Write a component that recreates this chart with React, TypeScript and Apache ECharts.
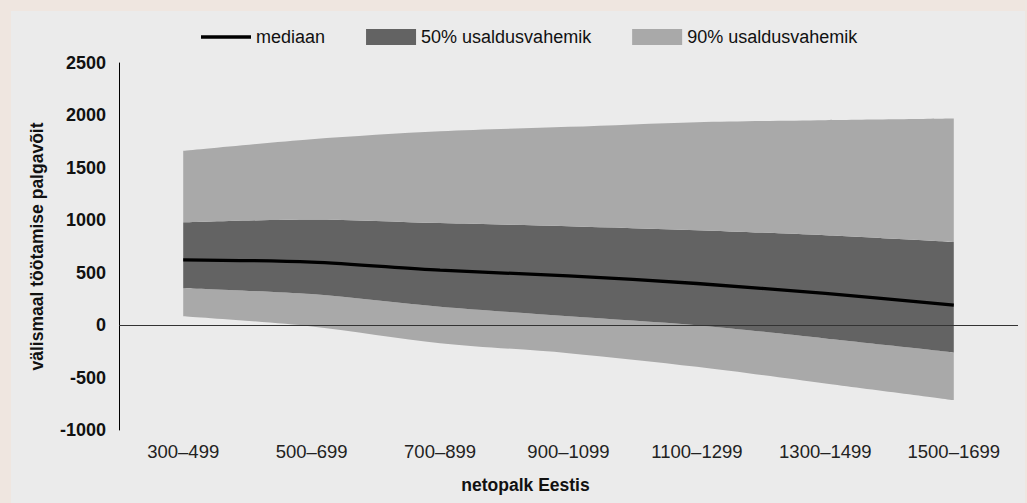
import React, { useEffect, useRef } from "react";
import * as echarts from "echarts";

const categories = ["300–499", "500–699", "700–899", "900–1099", "1100–1299", "1300–1499", "1500–1699"];
const median = [623, 601, 524, 470, 397, 302, 191];
const ci50Low = [353, 296, 175, 86, 0, -127, -260];
const ci50High = [979, 1008, 973, 944, 906, 858, 794];
const ci90Low = [86, -12, -172, -267, -397, -556, -715];
const ci90High = [1662, 1774, 1850, 1891, 1936, 1955, 1971];

const FONT = "'Liberation Sans', Arial, Helvetica, sans-serif";
const SMOOTH = 0.3;

export default function App() {
  const ref = useRef<HTMLDivElement>(null);
  useEffect(() => {
    if (!ref.current) return;
    const chart = echarts.init(ref.current, undefined, { renderer: "svg" });
    const diff = (a: number[], b: number[]) => a.map((v, i) => v - b[i]);
    const bandBase = {
      type: "line",
      stack: "ci",
      stackStrategy: "all",
      symbol: "none",
      smooth: SMOOTH,
      lineStyle: { width: 0, opacity: 0 },
      silent: true,
    };
    chart.setOption({
      animation: false,
      textStyle: { fontFamily: FONT },
      legend: {
        left: 185,
        top: 12,
        itemWidth: 50,
        itemHeight: 16,
        itemGap: 41,
        symbolKeepAspect: true,
        textStyle: { fontSize: 18, color: "#111", fontFamily: FONT },
        data: [
          { name: "mediaan", icon: "path://M0,0L46,0L46,3.4L0,3.4Z" },
          { name: "50% usaldusvahemik", icon: "rect" },
          { name: "90% usaldusvahemik", icon: "rect" },
        ],
      },
      grid: { left: 108, right: 7, top: 52, bottom: 73 },
      xAxis: {
        type: "category",
        data: categories,
        boundaryGap: true,
        axisLine: { show: false, onZero: false },
        axisTick: { show: false },
        axisLabel: { fontSize: 18.5, color: "#222", margin: 12, fontFamily: FONT },
        name: "netopalk Eestis",
        nameLocation: "middle",
        nameGap: 46,
        nameTextStyle: {
          fontSize: 17.5,
          fontWeight: "bold",
          color: "#111",
          fontFamily: FONT,
          padding: [0, 86, 0, 0],
        },
      },
      yAxis: {
        type: "value",
        min: -1000,
        max: 2500,
        interval: 500,
        axisLine: { show: true, lineStyle: { color: "#000", width: 1 } },
        axisTick: { show: false },
        splitLine: { show: false },
        axisLabel: {
          fontSize: 18,
          fontWeight: "bold",
          color: "#111",
          margin: 13,
          fontFamily: FONT,
          formatter: (v: number) => String(v),
        },
        name: "välismaal töötamise palgavõit",
        nameLocation: "middle",
        nameGap: 73,
        nameTextStyle: { fontSize: 17.5, fontWeight: "bold", color: "#111", fontFamily: FONT },
      },
      series: [
        { ...bandBase, name: "base", data: ci90Low },
        {
          ...bandBase,
          name: "90% usaldusvahemik",
          data: diff(ci50Low, ci90Low),
          itemStyle: { color: "#a9a9a9" },
          areaStyle: { color: "#a9a9a9", opacity: 1 },
        },
        {
          ...bandBase,
          name: "50% usaldusvahemik",
          data: diff(ci50High, ci50Low),
          itemStyle: { color: "#636363" },
          areaStyle: { color: "#636363", opacity: 1 },
        },
        {
          ...bandBase,
          name: "90% usaldusvahemik",
          data: diff(ci90High, ci50High),
          itemStyle: { color: "#a9a9a9" },
          areaStyle: { color: "#a9a9a9", opacity: 1 },
        },
        {
          type: "line",
          name: "mediaan",
          data: median,
          symbol: "none",
          smooth: SMOOTH,
          z: 5,
          itemStyle: { color: "#000" },
          lineStyle: { color: "#000", width: 3.3 },
          markLine: {
            silent: true,
            symbol: "none",
            label: { show: false },
            lineStyle: { color: "#333", width: 1, type: "solid" },
            data: [{ yAxis: 0 }],
          },
        },
      ],
    });
    return () => chart.dispose();
  }, []);
  return (
    <div style={{ position: "fixed", left: 0, top: 0, width: 1027, height: 503, background: "#efe6e0" }}>
      <div
        ref={ref}
        style={{ position: "absolute", left: 11, top: 11, width: 1014, height: 492, background: "#ebebeb" }}
      />
    </div>
  );
}
